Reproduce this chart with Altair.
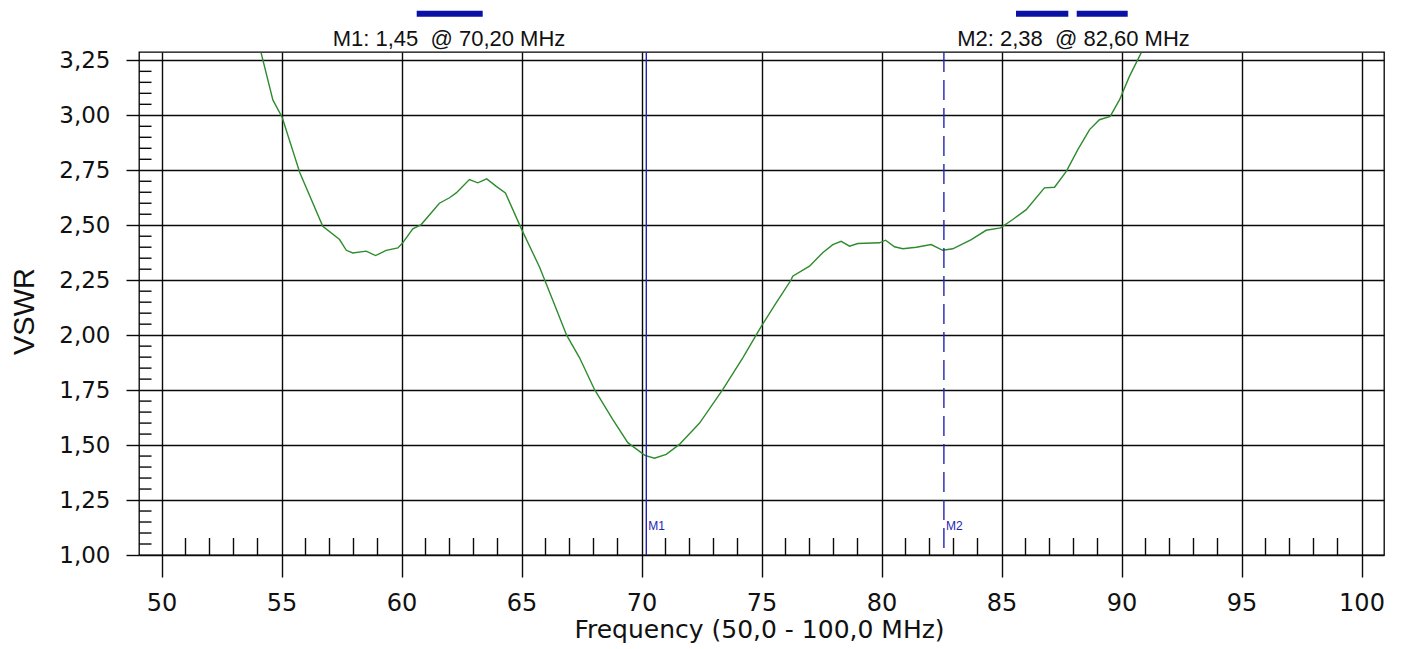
import altair as alt
import pandas as pd

# ---- data ----
freq = [54.15, 54.64, 55.03, 55.76, 56.72, 57.42, 57.70, 57.97, 58.53, 58.92,
        59.36, 59.85, 60.05, 60.47, 60.82, 61.58, 62.00, 62.28, 62.83, 63.18,
        63.55, 63.95, 64.33, 65.01, 65.75, 66.30, 66.88, 67.42, 68.04, 68.80,
        69.43, 70.14, 70.54, 71.03, 71.58, 72.42, 73.39, 74.22, 74.99, 75.61,
        75.89, 76.24, 76.30, 77.00, 77.55, 77.97, 78.32, 78.67, 79.01, 79.92,
        80.17, 80.54, 80.89, 81.45, 82.07, 82.55, 82.97, 83.74, 84.36, 84.96,
        85.47, 86.03, 86.79, 87.21, 87.70, 88.18, 88.67, 89.08, 89.53, 89.92,
        90.33, 90.82]
vswr = [3.284, 3.070, 2.990, 2.740, 2.495, 2.435, 2.386, 2.374, 2.382, 2.362,
        2.386, 2.397, 2.420, 2.484, 2.503, 2.600, 2.625, 2.647, 2.708, 2.693,
        2.711, 2.677, 2.647, 2.480, 2.310, 2.160, 2.000, 1.897, 1.753, 1.617,
        1.511, 1.453, 1.440, 1.458, 1.503, 1.600, 1.753, 1.897, 2.040, 2.147,
        2.194, 2.253, 2.268, 2.314, 2.375, 2.412, 2.427, 2.405, 2.417, 2.420,
        2.432, 2.402, 2.393, 2.400, 2.412, 2.386, 2.393, 2.435, 2.477, 2.488,
        2.526, 2.571, 2.670, 2.673, 2.745, 2.844, 2.935, 2.980, 2.995, 3.071,
        3.177, 3.284]

marker_names = ["M1", "M2"]
marker_freq = [70.20, 82.60]
marker_vswr = [1.45, 2.38]

x_major = [50, 55, 60, 65, 70, 75, 80, 85, 90, 95, 100]
y_major = [1.00, 1.25, 1.50, 1.75, 2.00, 2.25, 2.50, 2.75, 3.00, 3.25]
x_minor = [f for f in range(51, 100) if f % 5 != 0]
y_minor = [round(1 + 0.05 * i, 2) for i in range(1, 45) if i % 5 != 0]

# ---- layout / style ----
W, H = 1245, 503
BLUE = "#2424b4"
GRID = "#0a0a0a"

df = pd.DataFrame({"freq": freq, "vswr": vswr})
labels = [f"{n}: {v:.2f}\u00a0 @ {f:.2f} MHz".replace(".", ",")
          for n, f, v in zip(marker_names, marker_freq, marker_vswr)]
markers = pd.DataFrame({"name": marker_names, "freq": marker_freq,
                        "vswr": marker_vswr, "label": labels})

xs = alt.Scale(domain=[49.0625, 100.9375], nice=False, zero=False)
ys = alt.Scale(domain=[1.0, 3.288], nice=False, zero=False)

x_axis = alt.Axis(
    values=x_major, labelExpr="format(datum.value, 'd')",
    grid=True, gridColor=GRID, gridWidth=1.4, gridOpacity=1,
    tickSize=22, tickColor=GRID, tickWidth=1.4, domain=False,
    labelFont="DejaVu Sans", labelFontSize=24, labelColor="#111",
    labelPadding=14, labelFlush=False,
    title="Frequency (50,0 - 100,0 MHz)", titleFont="DejaVu Sans",
    titleFontSize=25, titleFontWeight="normal", titleColor="#111",
    titleX=620, titleY=82, titleBaseline="alphabetic", titleAlign="center")

y_axis = alt.Axis(
    values=y_major, labelExpr="replace(format(datum.value, '.2f'), '.', ',')",
    grid=True, gridColor=GRID, gridWidth=1.4, gridOpacity=1,
    tickSize=13, tickColor=GRID, tickWidth=1.4, domain=False,
    labelFont="DejaVu Sans", labelFontSize=23, labelColor="#111",
    labelPadding=16, labelOverlap=False,
    title="VSWR", titleFont="Liberation Sans", titleFontSize=29,
    titleFontWeight="normal", titleColor="#111", titleAngle=270,
    titleX=-106, titleY=259, titleBaseline="alphabetic", titleAlign="center")

X = alt.X("freq:Q", scale=xs, axis=x_axis)
Y = alt.Y("vswr:Q", scale=ys, axis=y_axis)

curve = alt.Chart(df).mark_line(color="#2e8b2e", strokeWidth=1.4, clip=True).encode(
    x=X, y=Y)

minor_x = alt.Chart(pd.DataFrame({"freq": x_minor})).mark_rule(
    color=GRID, strokeWidth=1.4).encode(
    x=X, y=alt.value(H - 17), y2=alt.value(H))

minor_y = alt.Chart(pd.DataFrame({"vswr": y_minor})).mark_rule(
    color=GRID, strokeWidth=1.4).encode(
    y=Y, x=alt.value(0), x2=alt.value(12.5))

m1_line = alt.Chart(markers).transform_filter("datum.name == 'M1'").mark_rule(
    color=BLUE, strokeWidth=1.4).encode(x=X, y=alt.value(0), y2=alt.value(H))

m2_line = alt.Chart(markers).transform_filter("datum.name == 'M2'").mark_rule(
    color=BLUE, strokeWidth=1.4, strokeDash=[20, 8]).encode(
    x=X, y=alt.value(0), y2=alt.value(H))

m_tags = alt.Chart(markers).mark_text(
    align="left", baseline="middle", dx=2, fontSize=12,
    font="Liberation Sans", color=BLUE).encode(
    x=X, y=alt.value(474), text="name:N")

head_style = dict(align="center", baseline="alphabetic", fontSize=22,
                  font="Liberation Sans", color="#111")
head1 = alt.Chart(markers).transform_filter("datum.name == 'M1'").mark_text(
    **head_style).encode(x=alt.value(310), y=alt.value(-5.6), text="label:N")
head2 = alt.Chart(markers).transform_filter("datum.name == 'M2'").mark_text(
    **head_style).encode(x=alt.value(934.5), y=alt.value(-5.6), text="label:N")


def bar(x0, x1):
    return alt.Chart(markers).transform_filter("datum.name == 'M1'").mark_rect(
        color="#0a12a6").encode(x=alt.value(x0), x2=alt.value(x1),
                                y=alt.value(-41.3), y2=alt.value(-35.3))


chart = alt.layer(
    curve, minor_x, minor_y, m1_line, m2_line, m_tags, head1, head2,
    bar(277.7, 343.7), bar(877, 929.3), bar(937.7, 988.7),
).properties(
    width=W, height=H,
    autosize=alt.AutoSizeParams(type="none"),
    padding={"left": 131, "top": 44, "right": 19, "bottom": 92},
    background="white",
).configure_view(stroke="#000", strokeWidth=1.3)

chart.save("out.html", embed_options={"renderer": "svg", "actions": False})
